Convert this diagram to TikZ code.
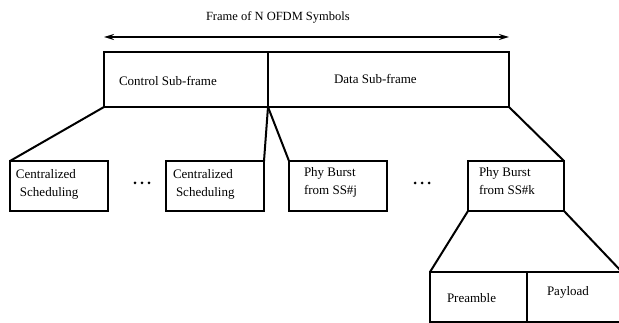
\documentclass[tikz,border=0pt]{standalone}
\usepackage{fontspec}
\setmainfont{Liberation Serif}
\usetikzlibrary{arrows.meta}
\begin{document}
\begin{tikzpicture}[x=1pt,y=-1pt,line width=2pt,
  frame/.style={draw,rectangle,minimum height=55pt,inner sep=0pt,outer sep=0pt,anchor=north west},
  sub/.style={draw,rectangle,minimum width=#1,minimum height=50pt,inner sep=0pt,outer sep=0pt,anchor=north west},
  lbl/.style={inner sep=0pt,anchor=base west,font=\fontsize{13}{18}\selectfont,align=left},
  dot/.style={fill=black,draw=none}]
\useasboundingbox (0,0) rectangle (619,323);
% frame
\node[frame,minimum width=164pt] (ctrl) at (104,52) {};
\node[frame,minimum width=241pt] (data) at (268,52) {};
\draw[{Stealth[length=10pt,width=6pt]}-{Stealth[length=10pt,width=6pt]}]
  ([yshift=15pt]ctrl.north west) -- ([yshift=15pt]data.north east);
\node[lbl,font=\fontsize{12.5}{15}\selectfont] (title) at (205,21) {Frame of N OFDM Symbols};
\node[lbl] (ctrltxt) at (118,86) {Control Sub-frame};
\node[lbl] (datatxt) at (333,84) {Data Sub-frame};
% second row
\node[sub=98pt] (c1) at (10,161) {};
\node[sub=98pt] (c2) at (166,161) {};
\node[sub=98pt] (p1) at (289,161) {};
\node[sub=96pt] (p2) at (468,161) {};
\node[lbl] (c1txt) at (15,197) {Centralized\\\hspace{4pt}Scheduling};
\node[lbl] (c2txt) at (172,197) {Centralized\\\hspace{3pt}Scheduling};
\node[lbl] (p1txt) at (303,195) {Phy Burst\\from SS\#j};
\node[lbl] (p2txt) at (478,195) {Phy Burst\\from SS\#k};
\foreach \x in {135,142,149} {\fill[dot] (\x,183) circle (1.5pt);}
\foreach \x in {415,422,429} {\fill[dot] (\x,183) circle (1.5pt);}
% third row
\node[sub=97pt] (pre) at (430,272) {};
\node[sub=95pt] (pay) at (527,272) {};
\node[lbl] (pretxt) at (446,302) {Preamble};
\node[lbl] (paytxt) at (546,296) {Payload};
% connectors
\draw (ctrl.south west) -- (c1.north west);
\draw (ctrl.south east) -- (c2.north east);
\draw (ctrl.south east) -- (p1.north west);
\draw (data.south east) -- (p2.north east);
\draw (p2.south west) -- (pre.north west);
\draw (p2.south east) -- (pay.north east);
\end{tikzpicture}
\end{document}
